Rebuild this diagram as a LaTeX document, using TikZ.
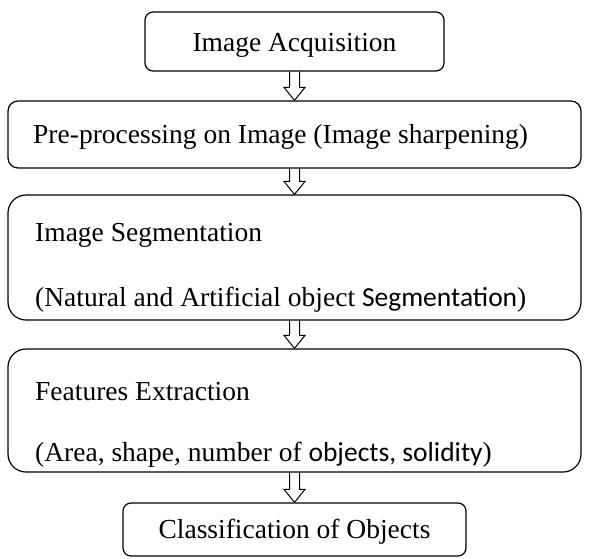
\documentclass[tikz,border=0pt]{standalone}
\usepackage{fontspec}
\setmainfont{Liberation Serif}
\newfontfamily\calfont{Carlito}
\usetikzlibrary{calc}
\tikzset{
  x=1pt, y=-1pt,
  stagebox/.style={draw, line width=1.2pt, inner sep=0pt, minimum width=#1},
  label/.style={inner sep=0pt, font=\fontsize{27.5}{33}\selectfont},
  hollowarrow/.style={line width=1pt, line join=miter,
    to path={let \p1=(\tikztostart), \p2=(\tikztotarget) in
      (\x1-5pt,\y1) -- (\x1-5pt,\y2+13pt) -- (\x1-10.5pt,\y2+13pt) -- (\x1,\y2)
      -- (\x1+10.5pt,\y2+13pt) -- (\x1+5pt,\y2+13pt) -- (\x1+5pt,\y1)}}
}
\begin{document}
\begin{tikzpicture}
\useasboundingbox (0,0) rectangle (590,558);

% stage boxes
\node[stagebox=299pt, minimum height=59pt, rounded corners=8pt] (acq) at (294.5,41.5) {};
\node[stagebox=573pt, minimum height=67pt, rounded corners=10pt] (pre) at (294.5,134.5) {};
\node[stagebox=573pt, minimum height=125pt, rounded corners=18pt] (seg) at (294.5,257.5) {};
\node[stagebox=573pt, minimum height=123pt, rounded corners=18pt] (fea) at (294.5,410.5) {};
\node[stagebox=343pt, minimum height=53pt, rounded corners=8pt] (cls) at (294.5,529.5) {};

% texts
\node[label, anchor=base] (acqT) at (294.5,51) {Image Acquisition};
\node[label, anchor=base west] (preT) at (33,143) {Pre-processing on Image (Image sharpening)};
\node[label, anchor=base west] (segT1) at (35,241) {Image Segmentation};
\node[label, anchor=base west] (segT2) at (35,306) {(Natural and Artificial object {\calfont Segmentation})};
\node[label, anchor=base west] (feaT1) at (35,400) {Features Extraction};
\node[label, anchor=base west] (feaT2) at (35,461) {(Area, shape, number of {\calfont objects, solidity})};
\node[label, anchor=base] (clsT) at (294.5,538) {Classification of Objects};

% connectors
\draw[hollowarrow] (acq.south) to (pre.north);
\draw[hollowarrow] (pre.south) to (seg.north);
\draw[hollowarrow] (seg.south) to (fea.north);
\draw[hollowarrow] (fea.south) to (cls.north);
\end{tikzpicture}
\end{document}
